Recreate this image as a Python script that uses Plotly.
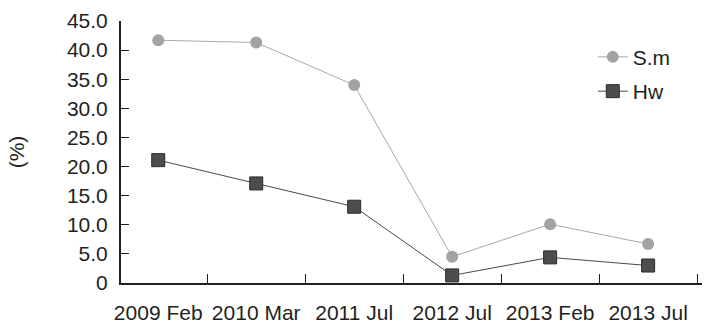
import plotly.graph_objects as go

categories = ["2009 Feb", "2010 Mar", "2011 Jul", "2012 Jul", "2013 Feb", "2013 Jul"]
sm_values = [41.7, 41.3, 34.0, 4.5, 10.1, 6.7]
hw_values = [21.1, 17.1, 13.1, 1.3, 4.4, 3.0]
y_ticks = [0, 5, 10, 15, 20, 25, 30, 35, 40, 45]
y_tick_labels = ["0", "5.0", "10.0", "15.0", "20.0", "25.0", "30.0", "35.0", "40.0", "45.0"]

FONT = "Liberation Sans, Arial, sans-serif"

fig = go.Figure()
fig.add_trace(go.Scatter(
    x=categories, y=sm_values, name="S.m", mode="lines+markers",
    line=dict(color="#a8a8a8", width=1),
    marker=dict(symbol="circle", size=12, color="#a3a3a3", line=dict(width=0)),
    legendgroup="a",
))
fig.add_trace(go.Scatter(
    x=categories, y=hw_values, name="Hw", mode="lines+markers",
    line=dict(color="#4a4a4a", width=1),
    marker=dict(symbol="square", size=13, color="#4d4d4d", line=dict(width=1, color="#2a2a2a")),
    legendgroup="b",
))

fig.update_layout(
    width=711, height=331,
    margin=dict(l=121, r=9, t=21, b=48),
    paper_bgcolor="white", plot_bgcolor="white",
    font=dict(family=FONT, size=21, color="#231f20"),
    showlegend=True,
    legend=dict(x=0.812, y=0.94, xanchor="left", yanchor="top",
                bgcolor="rgba(0,0,0,0)", font=dict(size=21), tracegroupgap=4),
    xaxis=dict(
        type="category", range=[-0.38, 5.55],
        showline=True, linecolor="#231f20", linewidth=2,
        ticks="inside", ticklen=9, tickwidth=1, tickcolor="#231f20",
        tickson="boundaries", showgrid=False, zeroline=False,
        tickfont=dict(size=21), tickangle=0, ticklabelstandoff=10,
        automargin=False,
    ),
    yaxis=dict(
        range=[0, 45], tickvals=y_ticks, ticktext=y_tick_labels,
        showline=True, linecolor="#231f20", linewidth=2,
        ticks="inside", ticklen=8, tickwidth=1, tickcolor="#231f20",
        showgrid=False, zeroline=False,
        title=dict(text="(%)", font=dict(size=21), standoff=37),
        tickfont=dict(size=21), ticklabelstandoff=7,
        automargin=False,
    ),
)

fig.write_html("out.html")
